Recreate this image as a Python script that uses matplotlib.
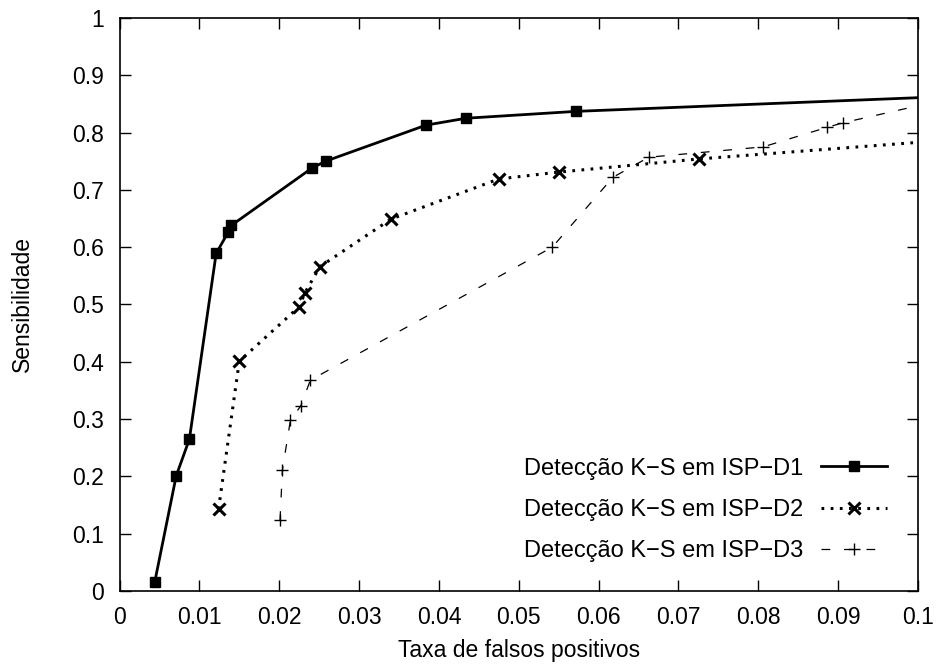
import numpy as np
import matplotlib
matplotlib.use("Agg")
import matplotlib.pyplot as plt

plt.rcParams['font.family'] = ['Liberation Sans', 'DejaVu Sans']

# dados (taxa de falsos positivos, sensibilidade)
d1_fpr = [0.0044, 0.0071, 0.00875, 0.0121, 0.0136, 0.0140, 0.0241, 0.0258, 0.0384, 0.0434, 0.0572, 0.12]
d1_sens = [0.015, 0.201, 0.265, 0.589, 0.626, 0.638, 0.738, 0.750, 0.813, 0.825, 0.837, 0.872]

d2_fpr = [0.0124, 0.0150, 0.0225, 0.0232, 0.0251, 0.0340, 0.0475, 0.0550, 0.0726, 0.12]
d2_sens = [0.143, 0.401, 0.496, 0.520, 0.566, 0.649, 0.719, 0.731, 0.754, 0.804]

d3_fpr = [0.0201, 0.0204, 0.0214, 0.0227, 0.0239, 0.0542, 0.0618, 0.0663, 0.0806, 0.0886, 0.0906, 0.12]
d3_sens = [0.124, 0.211, 0.298, 0.323, 0.368, 0.600, 0.722, 0.757, 0.775, 0.809, 0.817, 0.910]

labels = ["Detecção K−S em ISP−D1", "Detecção K−S em ISP−D2", "Detecção K−S em ISP−D3"]

fs = 16.5

fig = plt.figure(figsize=(9.39, 6.65), dpi=100)
ax = fig.add_axes([0.1273, 0.1113, 0.8503, 0.8617])

ax.plot(d1_fpr, d1_sens, '-', color='black', lw=2, marker='s', ms=7, label=labels[0])
ax.plot(d2_fpr, d2_sens, color='black', lw=2.2, linestyle=(0, (0.9, 2.1)), dash_capstyle='butt',
        marker='x', ms=8, mew=2.2, label=labels[1])
ax.plot(d3_fpr, d3_sens, color='black', lw=0.9, linestyle=(0, (7, 11)),
        marker='+', ms=9, mew=1.0, label=labels[2])

ax.set_xlim(0, 0.1)
ax.set_ylim(0, 1)
ax.set_xticks(np.arange(0, 0.1001, 0.01))
ax.set_xticklabels(['0', '0.01', '0.02', '0.03', '0.04', '0.05', '0.06', '0.07', '0.08', '0.09', '0.1'])
ax.set_yticks(np.arange(0, 1.001, 0.1))
ax.set_yticklabels(['0', '0.1', '0.2', '0.3', '0.4', '0.5', '0.6', '0.7', '0.8', '0.9', '1'])
ax.tick_params(direction='in', length=8, width=1, top=True, right=True, labelsize=fs, pad=11)
for s in ax.spines.values():
    s.set_linewidth(1.2)

ax.set_xlabel("Taxa de falsos positivos", fontsize=fs, labelpad=7)
ax.set_ylabel("Sensibilidade", fontsize=fs, labelpad=28)

ax.legend(loc='lower right', bbox_to_anchor=(0.961, 0.05), frameon=False, markerfirst=False,
          numpoints=1, handlelength=2.8, handletextpad=0.75, labelspacing=0.82, fontsize=17,
          borderpad=0, borderaxespad=0)

fig.savefig("out.png", dpi=100)
